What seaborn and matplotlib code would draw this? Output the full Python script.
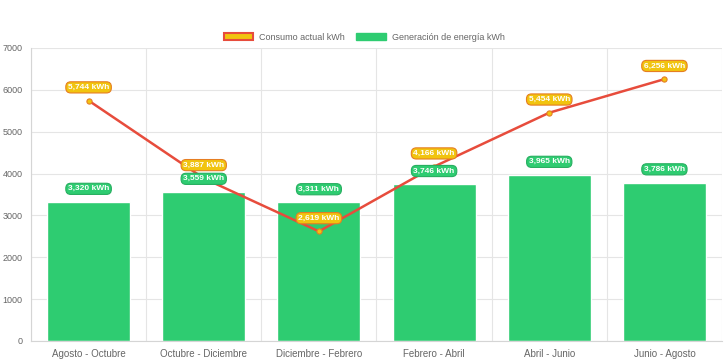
import numpy as np
import pandas as pd
import seaborn as sns
import matplotlib.pyplot as plt
from matplotlib.patches import Patch

periodos = ["Agosto - Octubre", "Octubre - Diciembre", "Diciembre - Febrero",
            "Febrero - Abril", "Abril - Junio", "Junio - Agosto"]
consumo = [5744, 3887, 2619, 4166, 5454, 6256]
generacion = [3320, 3559, 3311, 3746, 3965, 3786]

df = pd.DataFrame({"periodo": periodos, "consumo": consumo, "generacion": generacion})

sns.set_style("white")
plt.rcParams['font.family'] = ['Liberation Sans', 'DejaVu Sans']

fig = plt.figure(figsize=(7.28, 3.63), dpi=100)
ax = fig.add_axes([31 / 728, 22 / 363, 691 / 728, 293 / 363])

green = "#2ecc71"
red = "#e74c3c"
yellow = "#f1c40f"
orange = "#e67e22"

sns.barplot(data=df, x="periodo", y="generacion", color=green, width=0.72,
            saturation=1, ax=ax, zorder=2)
x = np.arange(len(periodos))
ax.plot(x, df["consumo"], color=red, lw=1.8, zorder=3)
ax.scatter(x, df["consumo"], s=14, color=yellow, edgecolor=orange, lw=0.8, zorder=4)

for xi, v in zip(x, generacion):
    ax.annotate(f"{v:,} kWh", (xi, v), xytext=(0, 9.5), textcoords="offset points",
                ha="center", va="center", fontsize=6, color="white", fontweight="bold",
                bbox=dict(boxstyle="round,pad=0.25,rounding_size=0.6", fc=green, ec="#27ae60", lw=0.8),
                zorder=5)
for xi, v in zip(x, consumo):
    ax.annotate(f"{v:,} kWh", (xi, v), xytext=(0, 9.5), textcoords="offset points",
                ha="center", va="center", fontsize=6, color="white", fontweight="bold",
                bbox=dict(boxstyle="round,pad=0.25,rounding_size=0.6", fc=yellow, ec=orange, lw=0.8),
                zorder=6)

ax.set_xlim(-0.5, len(periodos) - 0.5)
ax.set_ylim(0, 7000)
ax.set_yticks(range(0, 7001, 1000))
ax.set_xlabel("")
ax.set_ylabel("")
ax.set_xticks(np.arange(-0.5, len(periodos), 1), minor=True)
ax.tick_params(axis="x", which="major", length=0, labelsize=7, colors="#666666", pad=6)
ax.tick_params(axis="x", which="minor", length=5, color="#e5e5e5")
ax.tick_params(axis="y", length=5, color="#e5e5e5", labelsize=6.5, labelcolor="#666666", pad=1)
ax.grid(axis="y", color="#e5e5e5", lw=0.8, zorder=0)
ax.grid(axis="x", which="minor", color="#e5e5e5", lw=0.8, zorder=0)
ax.set_axisbelow(True)
for s in ["top", "right"]:
    ax.spines[s].set_visible(False)
ax.spines["left"].set_color("#d5d5d5")
ax.spines["bottom"].set_color("#d5d5d5")

handles = [Patch(facecolor=yellow, edgecolor=red, lw=1.5, label="Consumo actual kWh"),
           Patch(facecolor=green, edgecolor=green, label="Generación de energía kWh")]
fig.legend(handles=handles, loc="center", bbox_to_anchor=(0.5, 1 - 37 / 363), ncol=2,
           frameon=False, fontsize=6.5, handlelength=3.3, handleheight=0.9,
           columnspacing=1.3, handletextpad=0.6, labelcolor="#666666")

fig.savefig("out.png", dpi=100)
